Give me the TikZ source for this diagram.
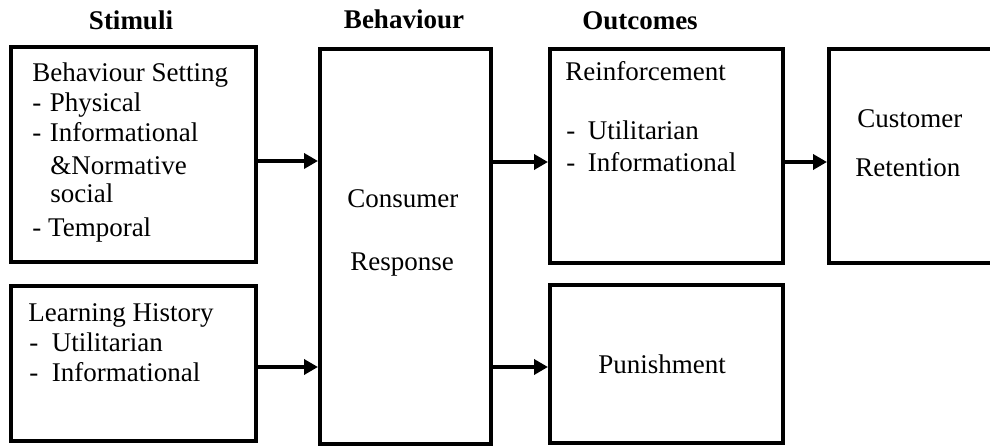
\documentclass[tikz,border=0pt]{standalone}
\usepackage{fontspec}
\setmainfont{Liberation Serif}
\usetikzlibrary{arrows.meta, fit}

\tikzset{
  box/.style={draw, line width=2pt, inner sep=0pt},
  txt/.style={anchor=base west, inner sep=0pt, font=\fontsize{13.5}{15}\selectfont},
  head/.style={anchor=base, inner sep=0pt, font=\fontsize{13.5}{15}\selectfont\bfseries},
  arr/.style={line width=2pt, -{Triangle[length=7pt,width=7.5pt]}}
}

\begin{document}
\begin{tikzpicture}[x=0.5pt, y=-0.5pt]
  \useasboundingbox (0,0) rectangle (990,448);
  % column heads
  \node[head] (hStim) at (131,30) {Stimuli};
  \node[head] (hBeh)  at (404,29) {Behaviour};
  \node[head] (hOut)  at (640,30) {Outcomes};
  % boxes
  \node[box, fit={(11,47) (256,262)}]  (setting) {};
  \node[box, fit={(11,286) (256,441)}] (history) {};
  \node[box, fit={(320,49) (491,444)}] (response) {};
  \node[box, fit={(550,49) (783,263)}] (reinf) {};
  \node[box, fit={(550,285) (783,443)}] (punish) {};
  \node[box, fit={(829,49) (1000,263)}] (retain) {};
  % box texts
  \foreach \xx/\yy/\lbl [count=\i] in {
      32/82/Behaviour Setting,
      32/112/-\hspace{4.3pt}Physical,
      32/142/-\hspace{4.3pt}Informational,
      50/175/\&Normative,
      50/203/social,
      32/237/- Temporal}
    \node[txt] (set\i) at (\xx,\yy) {\lbl};
  \foreach \xx/\yy/\lbl [count=\i] in {
      28/322/Learning History,
      29/352/-\hspace{6.8pt}Utilitarian,
      29/382/-\hspace{6.8pt}Informational}
    \node[txt] (hist\i) at (\xx,\yy) {\lbl};
  \node[txt] (resp1) at (347,208) {Consumer};
  \node[txt] (resp2) at (350,271) {Response};
  \foreach \xx/\yy/\lbl [count=\i] in {
      565/81/Reinforcement,
      566/140/-\hspace{6.3pt}Utilitarian,
      566/172/-\hspace{6.3pt}Informational}
    \node[txt] (rein\i) at (\xx,\yy) {\lbl};
  \node[txt] (pun1) at (598,373) {Punishment};
  \node[txt] (ret1) at (857,128) {Customer};
  \node[txt] (ret2) at (855,177) {Retention};
  % arrows
  \draw[arr] (setting.east |- 0,161) -- (response.west |- 0,161);
  \draw[arr] (history.east |- 0,367) -- (response.west |- 0,367);
  \draw[arr] (response.east |- 0,162) -- (reinf.west |- 0,162);
  \draw[arr] (response.east |- 0,367) -- (punish.west |- 0,367);
  \draw[arr] (reinf.east |- 0,162) -- (retain.west |- 0,162);
\end{tikzpicture}
\end{document}
